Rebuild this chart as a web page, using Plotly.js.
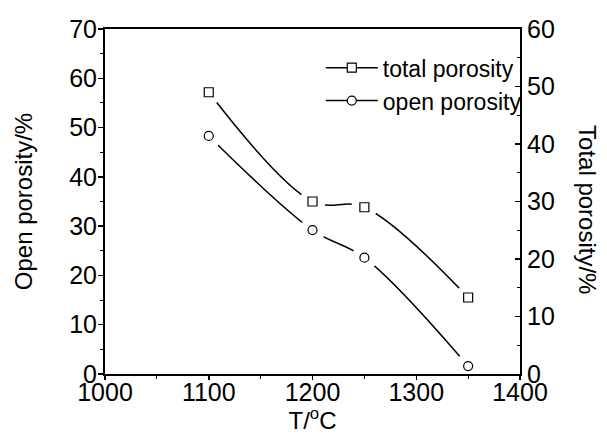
<!DOCTYPE html>
<html>
<head>
<meta charset="utf-8">
<script src="https://cdn.plot.ly/plotly-3.0.1.min.js"></script>
<style>html,body{margin:0;padding:0;background:#fff;}#chart{width:607px;height:434px;}</style>
</head>
<body>
<div id="chart"></div>
<script>
// Data
const temperature = [1100, 1200, 1250, 1350];          // T / °C
const totalPorosity = [49.0, 30.0, 29.0, 13.3];        // right axis, %
const openPorosity = [48.3, 29.2, 23.6, 1.6];          // left axis, %
const totalName = 'total porosity';
const openName = 'open porosity';

const FONT = 'Liberation Sans, Arial, sans-serif';
const mk = 9, maskSize = 26;
const lineStyle = {shape: 'spline', smoothing: 1, color: '#000', width: 1.5};
const mkStyle = s => ({symbol: s, size: mk, color: '#fff', line: {color: '#000', width: 1.2}});

const data = [
  {x: [null], y: [null], name: totalName, type: 'scatter', mode: 'lines+markers', yaxis: 'y2',
   line: lineStyle, marker: mkStyle('square')},
  {x: [null], y: [null], name: openName, type: 'scatter', mode: 'lines+markers', yaxis: 'y',
   line: lineStyle, marker: mkStyle('circle')},
  {x: temperature, y: openPorosity, yaxis: 'y', type: 'scatter', mode: 'lines', showlegend: false, line: lineStyle},
  {x: temperature, y: totalPorosity, yaxis: 'y2', type: 'scatter', mode: 'lines', showlegend: false, line: lineStyle},
  {x: temperature, y: openPorosity, yaxis: 'y3', type: 'scatter', mode: 'markers', showlegend: false,
   marker: {symbol: 'circle', size: maskSize, color: '#fff', opacity: 1, line: {width: 0}}},
  {x: temperature, y: totalPorosity, yaxis: 'y4', type: 'scatter', mode: 'markers', showlegend: false,
   marker: {symbol: 'circle', size: maskSize, color: '#fff', opacity: 1, line: {width: 0}}},
  {x: temperature, y: openPorosity, yaxis: 'y3', type: 'scatter', mode: 'markers', showlegend: false,
   marker: mkStyle('circle')},
  {x: temperature, y: totalPorosity, yaxis: 'y4', type: 'scatter', mode: 'markers', showlegend: false,
   marker: mkStyle('square')}
];

const hidden = r => ({range: r, overlaying: 'y', visible: false, showgrid: false, zeroline: false});

const layout = {
  width: 607, height: 434,
  margin: {l: 105, r: 87, t: 29, b: 60},
  paper_bgcolor: '#fff', plot_bgcolor: '#fff',
  font: {family: FONT, size: 25, color: '#000'},
  showlegend: true,
  legend: {x: 0.52, y: 0.95, xanchor: 'left', yanchor: 'top', bgcolor: 'rgba(0,0,0,0)',
           font: {family: FONT, size: 23, color: '#000'}, itemwidth: 52, tracegroupgap: 0},
  xaxis: {range: [1000, 1400], dtick: 100, showgrid: false, zeroline: false,
          showline: true, linecolor: '#000', linewidth: 2, mirror: true,
          ticks: 'outside', ticklen: 4, tickwidth: 1.5, tickcolor: '#000', ticklabelstandoff: -9,
          minor: {dtick: 50, ticks: 'outside', ticklen: 3, tickcolor: '#000', tickwidth: 1},
          tickfont: {family: FONT, size: 25},
          title: {text: 'T/<sup>o</sup>C', font: {family: FONT, size: 24}, standoff: 6}},
  yaxis: {range: [0, 70], dtick: 10, showgrid: false, zeroline: false,
          showline: true, linecolor: '#000', linewidth: 2,
          ticks: 'outside', ticklen: 5, tickwidth: 1.5, tickcolor: '#000', ticklabelstandoff: -4,
          minor: {dtick: 5, ticks: 'outside', ticklen: 3, tickcolor: '#000', tickwidth: 1},
          tickfont: {family: FONT, size: 25},
          title: {text: 'Open porosity/%', font: {family: FONT, size: 24}, standoff: 30}},
  yaxis2: {range: [0, 60], dtick: 10, overlaying: 'y', side: 'right', showgrid: false, zeroline: false,
           showline: true, linecolor: '#000', linewidth: 2,
           ticks: 'inside', ticklen: 5, tickwidth: 1.5, tickcolor: '#000',
           minor: {dtick: 5, ticks: 'inside', ticklen: 3, tickcolor: '#000', tickwidth: 1},
           tickfont: {family: FONT, size: 25}},
  yaxis3: hidden([0, 70]),
  yaxis4: hidden([0, 60]),
  annotations: [{text: 'Total porosity/%', xref: 'paper', yref: 'paper', x: 1.164, y: 0.478,
                 xanchor: 'center', yanchor: 'middle',
                 textangle: 90, showarrow: false, font: {family: FONT, size: 24, color: '#000'}}]
};

Plotly.newPlot('chart', data, layout, {staticPlot: true, displayModeBar: false});
</script>
</body>
</html>
